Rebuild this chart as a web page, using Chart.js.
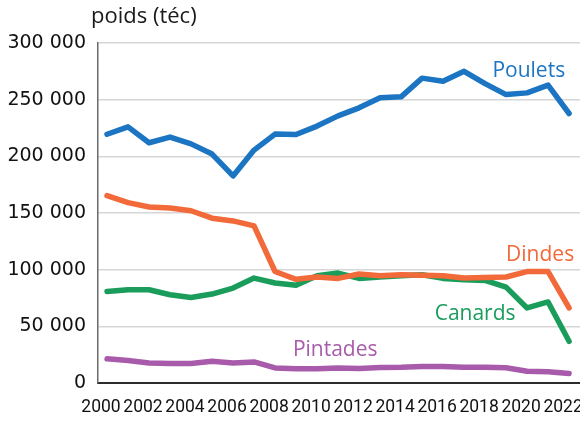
<!DOCTYPE html>
<html>
<head>
<meta charset="utf-8">
<script src="https://cdn.jsdelivr.net/npm/chart.js@4/dist/chart.umd.min.js"></script>
<style>
  html, body { margin: 0; padding: 0; background: #fff; }
  canvas { display: block; }
</style>
</head>
<body>
<canvas id="chart" width="580" height="423"></canvas>
<script>
const years = [2000, 2001, 2002, 2003, 2004, 2005, 2006, 2007, 2008, 2009, 2010, 2011,
    2012, 2013, 2014, 2015, 2016, 2017, 2018, 2019, 2020, 2021, 2022]
const poulets = [219500, 226000, 212000, 217000, 211000, 202000, 182700, 205500, 219600, 219300, 226700, 235700,
    242800, 251600, 252500, 269000, 266300, 275000, 264200, 254500, 256000, 262800, 237800]
const dindes = [165300, 159200, 155300, 154500, 152000, 145400, 143000, 138600, 98400, 91500, 93500, 92300,
    96200, 94600, 95500, 95000, 94600, 92600, 93000, 93500, 98300, 98300, 66200]
const canards = [80800, 82300, 82300, 77900, 75500, 78500, 83800, 92600, 88200, 86300, 94600, 97000,
    92300, 93500, 94600, 95500, 92300, 91100, 90500, 84600, 66200, 71500, 36800]
const pintades = [21300, 19800, 17700, 17200, 17200, 19200, 17700, 18600, 13300, 12600, 12500, 13300,
    12800, 13700, 13800, 14500, 14500, 13900, 13900, 13400, 10400, 10000, 8400]
const xTicks = [2000, 2002, 2004, 2006, 2008, 2010, 2012, 2014, 2016, 2018, 2020, 2022]
const yTicks = [0, 50000, 100000, 150000, 200000, 250000, 300000]

const colors = {
    poulets: '#1b75c2',
    dindes: '#f2693a',
    canards: '#1a9c5b',
    pintades: '#a95bab'
}

// étiquettes posées à côté des courbes (x en année, y en valeur)
const seriesLabels = [
    { text: 'Poulets', x: 2018.35, y: 270000, color: colors.poulets },
    { text: 'Dindes', x: 2019.0, y: 107500, color: colors.dindes },
    { text: 'Canards', x: 2015.6, y: 55500, color: colors.canards },
    { text: 'Pintades', x: 2008.85, y: 23500, color: colors.pintades }
]

const toPoints = arr => arr.map((v, i) => ({ x: years[i], y: v }))

function formatNumber(v) {
    return String(v).replace(/\B(?=(\d{3})+(?!\d))/g, ' ')
}

const labelsPlugin = {
    id: 'labels',
    afterDraw(chart) {
        const ctx = chart.ctx
        const xs = chart.scales.x
        const ys = chart.scales.y
        ctx.save()
        ctx.font = '21px "Open Sans", sans-serif'
        ctx.textAlign = 'left'
        ctx.textBaseline = 'alphabetic'
        seriesLabels.forEach(l => {
            ctx.fillStyle = l.color
            ctx.fillText(l.text, xs.getPixelForValue(l.x), ys.getPixelForValue(l.y))
        })
        ctx.fillStyle = '#1a1a1a'
        ctx.font = '22px "Open Sans", sans-serif'
        ctx.fillText('poids (téc)', 91, 23)
        ctx.restore()
    }
}

const dataset = (data, color) => ({
    data: toPoints(data),
    borderColor: color,
    backgroundColor: color,
    borderWidth: 5.5,
    pointRadius: 0,
    tension: 0,
    borderJoinStyle: 'round',
    borderCapStyle: 'round'
})

new Chart(document.getElementById('chart'), {
    type: 'line',
    data: {
        datasets: [
            dataset(poulets, colors.poulets),
            dataset(dindes, colors.dindes),
            dataset(canards, colors.canards),
            dataset(pintades, colors.pintades)
        ]
    },
    options: {
        responsive: false,
        animation: false,
        layout: { padding: { top: 43, left: 0, right: 0, bottom: 0 } },
        plugins: {
            legend: { display: false },
            tooltip: { enabled: false }
        },
        scales: {
            x: {
                type: 'linear',
                min: 1999.57,
                max: 2022.52,
                afterBuildTicks: scale => { scale.ticks = xTicks.map(v => ({ value: v })) },
                afterFit: scale => {
                    scale.height = 40
                    scale.paddingLeft = 0
                    scale.paddingRight = 0
                },
                grid: { display: false, drawTicks: false },
                border: { display: true, color: '#2b2b2b', width: 2 },
                ticks: {
                    autoSkip: false,
                    maxRotation: 0,
                    padding: 14,
                    labelOffset: -6,
                    color: '#111',
                    font: { family: 'Roboto, sans-serif', size: 17.5 },
                    callback: v => String(v)
                }
            },
            y: {
                min: 0,
                max: 300000,
                afterBuildTicks: scale => { scale.ticks = yTicks.map(v => ({ value: v })) },
                afterFit: scale => {
                    scale.width = 98
                    scale.paddingTop = 0
                    scale.paddingBottom = 0
                },
                grid: { color: '#d6d6d6', lineWidth: 1.5, drawTicks: false },
                border: { display: true, color: '#6a6a6a', width: 1.5 },
                ticks: {
                    padding: 12,
                    color: '#111',
                    font: { family: '"DejaVu Sans", sans-serif', size: 19 },
                    callback: v => formatNumber(v)
                }
            }
        }
    },
    plugins: [labelsPlugin]
})
</script>
</body>
</html>
